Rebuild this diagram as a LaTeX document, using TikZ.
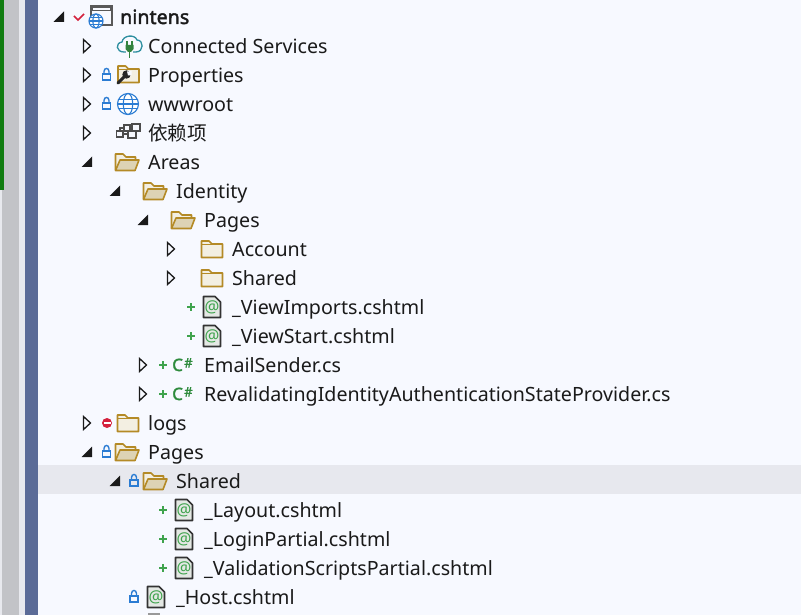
\documentclass[tikz,border=0pt]{standalone}
\usepackage{fontspec}
\setmainfont{Noto Sans}
\newfontfamily\cjk{Noto Sans CJK SC}
\newfontfamily\boldf[FakeBold=2]{Noto Sans}
\definecolor{bgc}{HTML}{F7F9FF}
\definecolor{rail}{HTML}{5B6B97}
\definecolor{railg}{HTML}{C2C3C7}
\definecolor{raill}{HTML}{E8E9EE}
\definecolor{selc}{HTML}{E7E8EE}
\definecolor{grn}{HTML}{107C10}
\definecolor{fold}{HTML}{B48A26}
\definecolor{foldf}{HTML}{F3EFE2}
\definecolor{foldo}{HTML}{DDD3B5}
\definecolor{lockc}{HTML}{2B7CD3}
\definecolor{txt}{HTML}{1A1A1A}
\definecolor{addc}{HTML}{3FA34D}
\definecolor{csc}{HTML}{2E8B3D}
\definecolor{filef}{HTML}{E4E8E4}
\definecolor{globec}{HTML}{2B7CD3}
\definecolor{tealc}{HTML}{2E8FA0}
\definecolor{chk}{HTML}{D4213D}
\tikzset{
 lbl/.style={anchor=base west,inner sep=0pt,text=txt,font=\fontsize{19.65}{21}\selectfont},
 foldline/.style={draw=fold,line width=1.6pt,line join=round},
 lockline/.style={draw=lockc,line width=1.4pt},
 tri/.style={draw=txt,line width=1.3pt,fill=bgc,line join=miter},
 trio/.style={fill=txt,draw=none},
 addline/.style={draw=addc,line width=1.7pt},
 globeline/.style={draw=globec,line width=1.1pt},
}
\newcommand{\treeclosed}[2]{\draw[tri] (#1-3.5,#2-6.5) -- (#1+3.5,#2) -- (#1-3.5,#2+6.5) -- cycle;}
\newcommand{\treeopen}[2]{\fill[trio] (#1+5,#2-5.5) -- (#1+5,#2+5) -- (#1-5.5,#2+5) -- cycle;}
\newcommand{\lockicon}[2]{\draw[lockline] (#1-4,#2-1) rectangle (#1+4,#2+5);
 \draw[lockline] (#1-2.5,#2-1) -- (#1-2.5,#2-3.5) .. controls (#1-2.5,#2-7.5) and (#1+2.5,#2-7.5) .. (#1+2.5,#2-3.5) -- (#1+2.5,#2-1);}
\newcommand{\addicon}[2]{\draw[addline] (#1-4,#2) -- (#1+4,#2) (#1,#2-4) -- (#1,#2+4);}
\newcommand{\closedfolder}[2]{\draw[foldline,fill=foldf] (#1-10.5,#2-8) -- (#1-3,#2-8) -- (#1,#2-5) -- (#1+10.5,#2-5) -- (#1+10.5,#2+8.5) -- (#1-10.5,#2+8.5) -- cycle;
 \draw[fold,line width=1pt] (#1-10.5,#2-4.5) -- (#1,#2-4.5);}
\newcommand{\openfolder}[2]{\draw[foldline,fill=foldf] (#1-11.5,#2+8.5) -- (#1-11.5,#2-8) -- (#1-4,#2-8) -- (#1-1,#2-5) -- (#1+8.5,#2-5) -- (#1+8.5,#2-2);
 \draw[foldline,fill=foldo] (#1-11.5,#2+8.5) -- (#1-7,#2-2) -- (#1+12,#2-2) -- (#1+8,#2+8.5) -- cycle;}
\newcommand{\razorfile}[2]{\draw[draw=black!80,line width=1.6pt,fill=filef,line join=round] (#1-8.5,#2-10.5) -- (#1+3,#2-10.5) -- (#1+8.5,#2-5) -- (#1+8.5,#2+10.5) -- (#1-8.5,#2+10.5) -- cycle;
 \node[inner sep=0pt,text=addc,font=\fontsize{16.5}{16.5}\selectfont] at (#1,#2+0.5) {@};}
\newcommand{\csicon}[2]{\node[anchor=base west,inner sep=0pt,text=csc,font=\boldf\fontsize{17}{17}\selectfont] at (#1-12,#2+6) {C};
 \node[anchor=base west,inner sep=0pt,text=csc,font=\boldf\fontsize{13}{13}\selectfont] at (#1,#2+2.5) {\#};}
\newcommand{\globe}[3]{\fill[white] (#1,#2) circle (#3);\draw[globeline] (#1,#2) circle (#3);
 \draw[globeline] (#1,#2) ellipse ({#3*0.45} and #3);
 \draw[globeline] (#1-#3,#2) -- (#1+#3,#2);
 \draw[globeline] (#1-#3*0.87,#2-#3*0.45) -- (#1+#3*0.87,#2-#3*0.45);
 \draw[globeline] (#1-#3*0.87,#2+#3*0.45) -- (#1+#3*0.87,#2+#3*0.45);}
\begin{document}
\begin{tikzpicture}[x=1pt,y=-1pt]
\useasboundingbox (0,0) rectangle (801,615);
\fill[bgc] (0,0) rectangle (801,615);
\fill[raill] (0,0) rectangle (38,615);
\fill[railg] (2,0) rectangle (19,615);
\fill[grn] (0,0) rectangle (4,190);
\fill[rail] (25,0) rectangle (38,615);
\fill[selc] (38,465) rectangle (801,494);
% labels
\node[lbl,font=\boldf\fontsize{19.65}{21}\selectfont] (t0) at (120,24) {nintens};
\node[lbl] (t1) at (148,53.6) {Connected Services};
\node[lbl] (t2) at (148,82.6) {Properties};
\node[lbl] (t3) at (148,111.6) {wwwroot};
\node[lbl,font=\cjk\fontsize{19.65}{21}\selectfont] (t4) at (148,140.6) {依赖项};
\node[lbl] (t5) at (148,169.6) {Areas};
\node[lbl] (t6) at (176,198) {Identity};
\node[lbl] (t7) at (204,227) {Pages};
\node[lbl] (t8) at (232,256) {Account};
\node[lbl] (t9) at (232,285) {Shared};
\node[lbl] (t10) at (232,314) {\_ViewImports.cshtml};
\node[lbl] (t11) at (232,343) {\_ViewStart.cshtml};
\node[lbl] (t12) at (204,372) {EmailSender.cs};
\node[lbl] (t13) at (204,401) {RevalidatingIdentityAuthenticationStateProvider.cs};
\node[lbl] (t14) at (148,430) {logs};
\node[lbl] (t15) at (148,459) {Pages};
\node[lbl] (t16) at (176,488) {Shared};
\node[lbl] (t17) at (204,517) {\_Layout.cshtml};
\node[lbl] (t18) at (204,546) {\_LoginPartial.cshtml};
\node[lbl] (t19) at (204,575) {\_ValidationScriptsPartial.cshtml};
\node[lbl] (t20) at (176,604) {\_Host.cshtml};
% expanders
\treeopen{59}{17}
\treeclosed{87}{46}\treeclosed{87}{75}\treeclosed{87}{104}\treeclosed{87}{133}
\treeopen{87}{162}\treeopen{115}{191}\treeopen{143}{220}
\treeclosed{171}{249}\treeclosed{171}{278}
\treeclosed{143}{365}\treeclosed{143}{394}\treeclosed{87}{423}
\treeopen{87}{452}\treeopen{115}{481}
% state glyphs
\draw[draw=chk,line width=1.6pt] (74,16) -- (78,20) -- (84,14);
\lockicon{106.5}{75}\lockicon{106.5}{104}\lockicon{106.5}{452}\lockicon{134}{481}\lockicon{134}{597}
\addicon{191}{307}\addicon{191}{336}\addicon{163}{365}\addicon{163}{394}
\addicon{163}{510}\addicon{163}{539}\addicon{163}{568}
\fill[chk] (107,423) circle (5);
\fill[white] (103.5,421.8) rectangle (110.5,424.2);
% project icon
\draw[black!65,line width=1.5pt,fill=bgc] (91,6) rectangle (112,25);
\fill[black!65] (91,6) rectangle (112,11);
\fill[bgc] (93,8) rectangle (110,10);
\globe{96}{21}{7}
% connected services
\draw[tealc,line width=1.3pt,fill=bgc] (124,52) .. controls (116,52) and (115,43) .. (122,42) .. controls (123,35) and (135,34) .. (137,40) .. controls (144,40) and (144,52) .. (136,52) -- cycle;
\fill[bgc] (126,50) rectangle (133,54);
\fill[addc!80!black] (125.5,45) -- (133.5,45) -- (133.5,49) -- (131,52) -- (128,52) -- (125.5,49) -- cycle;
\draw[addc!80!black,line width=1.4pt] (129.5,51) -- (129.5,58) (127,41) -- (127,45) (132,41) -- (132,45);
% properties
\closedfolder{128.5}{74}
\draw[black!85,line width=3pt,line cap=round] (118,83) -- (125,76);
\fill[black!85] (126.5,74.5) circle (4.2);
\fill[bgc] (127,71.5) -- (131.5,71) -- (131.5,75.5) -- (128,75.5) -- cycle;
% wwwroot
\globe{128}{104}{10.5}
% dependencies
\draw[black!70,line width=1.2pt,fill=bgc] (116.5,131) rectangle (123,137);
\draw[black!70,line width=1.2pt,fill=bgc] (124,125) rectangle (130,131);
\draw[black!70,line width=1.2pt,fill=bgc] (132,124) rectangle (140,131);
\draw[black!70,line width=1.2pt,fill=bgc] (128,131) rectangle (136,138);
\draw[black!70,line width=1.2pt] (123,134) -- (128,134) (120,131) -- (120,128) -- (124,128) (130,128) -- (132,128);
% folders
\openfolder{127}{162}\openfolder{155}{191}\openfolder{183}{220}
\closedfolder{212}{249}\closedfolder{212}{278}
\closedfolder{128}{423}
\openfolder{127}{452}\openfolder{155}{481}
% razor files
\razorfile{212}{307}\razorfile{212}{336}
\razorfile{184}{510}\razorfile{184}{539}\razorfile{184}{568}\razorfile{156}{597}
\fill[black!40] (148,613) rectangle (160,615);
% csharp
\csicon{184}{365}\csicon{184}{394}
\end{tikzpicture}
\end{document}
